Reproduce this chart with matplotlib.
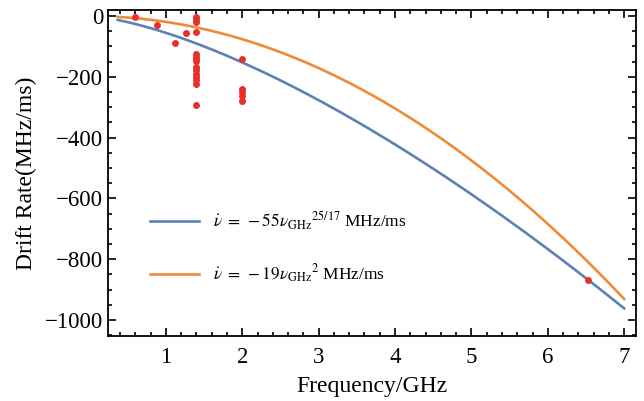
import numpy as np
import matplotlib
matplotlib.use('Agg')
import matplotlib.pyplot as plt
from matplotlib.ticker import MultipleLocator

plt.rcParams['font.family'] = ['Liberation Serif', 'DejaVu Serif']
plt.rcParams['mathtext.fontset'] = 'stix'

# Données mesurées (fréquence en GHz, dérive en MHz/ms)
freq_pts = [0.59, 0.89, 1.12, 1.27,
            1.4, 1.4, 1.4, 1.4, 1.4, 1.4, 1.4, 1.4, 1.4, 1.4, 1.4, 1.4, 1.4, 1.4, 1.4,
            2.0, 2.0, 2.0, 2.0, 2.0,
            6.52]
drift_pts = [-4, -30, -87, -57,
             -2, -13, -21, -51, -126, -134, -141, -148, -167, -178, -189, -200, -211, -222, -291,
             -141, -240, -251, -262, -280,
             -870]

# Lois de puissance
coef_blue, exp_blue = -55, 25 / 17
coef_orange, exp_orange = -19, 2
f_min, f_max = 0.37, 7.0

blue = '#5E81B5'
orange = '#EF8B36'
red = '#E8302A'

fig = plt.figure(figsize=(6.44, 4.01), dpi=100)
ax = fig.add_axes([0.168, 0.162, 0.819, 0.813])

f = np.linspace(f_min, f_max, 300)
ax.plot(f, coef_blue * f ** exp_blue, color=blue, lw=1.9,
        label=r'$\dot{\nu}\;=\;-55{\nu_{\mathrm{GHz}}}^{25/17}$ MHz/ms')
ax.plot(f, coef_orange * f ** exp_orange, color=orange, lw=1.9,
        label=r'$\dot{\nu}\;=\;-19{\nu_{\mathrm{GHz}}}^{2}$ MHz/ms')
ax.plot(freq_pts, drift_pts, 'o', color=red, ms=5, mew=0, zorder=3)

ax.set_xlim(0.245, 7.15)
ax.set_ylim(-1053, 20)
ax.xaxis.set_major_locator(MultipleLocator(1))
ax.xaxis.set_minor_locator(MultipleLocator(0.2))
ax.yaxis.set_major_locator(MultipleLocator(200))
ax.yaxis.set_minor_locator(MultipleLocator(50))
ax.tick_params(which='both', direction='in', top=True, right=True, labelsize=16.5, width=1.2)
ax.tick_params(which='major', length=6)
ax.tick_params(which='minor', length=3)
ax.tick_params(axis='x', which='major', pad=8)
for s in ax.spines.values():
    s.set_linewidth(1.3)

ax.set_xlabel('Frequency/GHz', fontsize=17, labelpad=6)
ax.set_ylabel('Drift Rate(MHz/ms)', fontsize=17, labelpad=6)

ax.legend(loc='center left', bbox_to_anchor=(0.067, 0.273), borderaxespad=0,
          frameon=False, fontsize=12.5, handlelength=2.8, labelspacing=1.75)

fig.savefig('out.png', dpi=100)
